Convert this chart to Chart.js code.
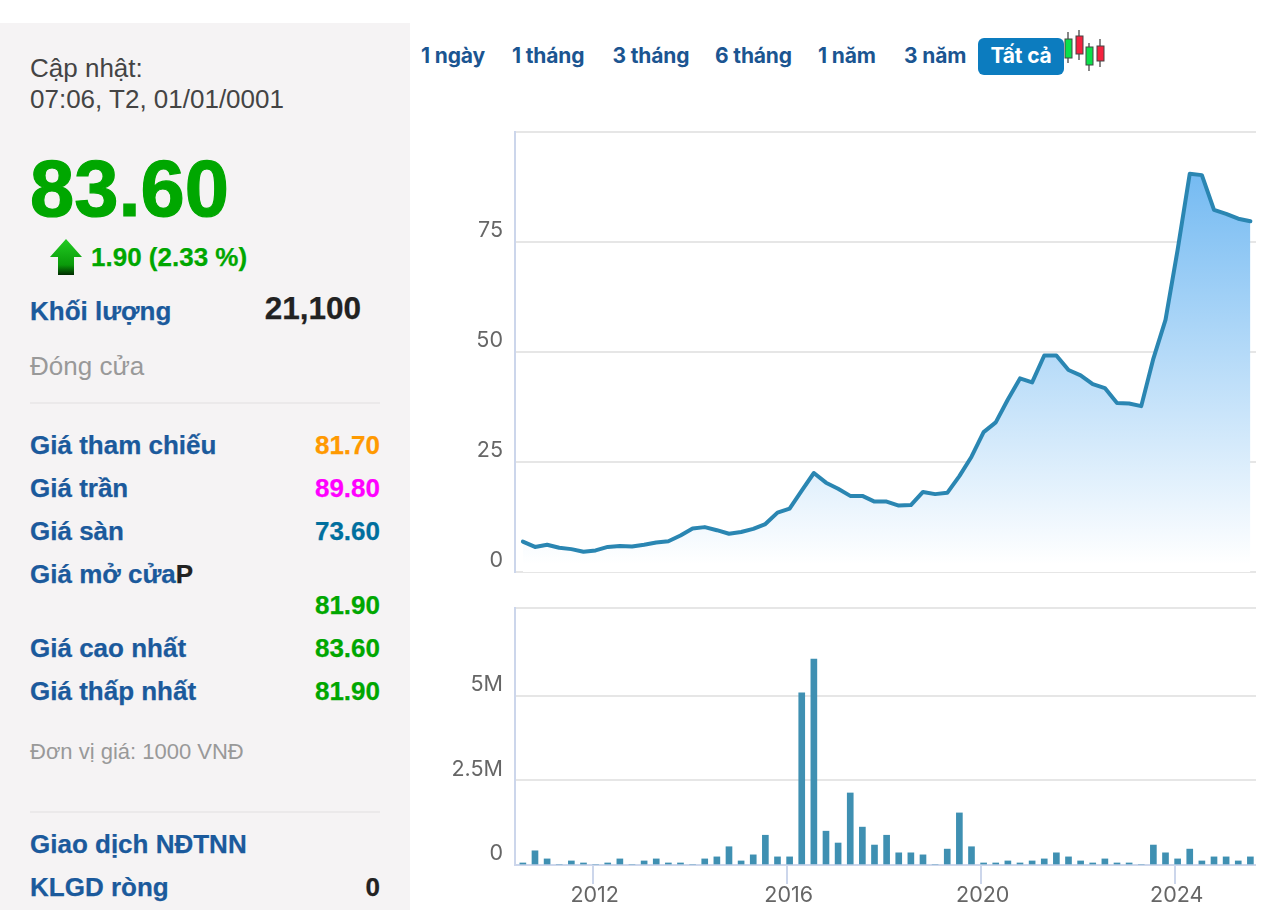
<!DOCTYPE html>
<html lang="vi"><head><meta charset="utf-8">
<script src="https://cdn.jsdelivr.net/npm/chart.js@4"></script>
<style>
html,body{margin:0;padding:0;background:#fff;width:1284px;height:910px;overflow:hidden}
#panel{position:absolute;left:0;top:23px;width:410px;height:887px;background:#f5f3f4}
.t{position:absolute;white-space:nowrap;font-family:"Liberation Sans",Arial,sans-serif;line-height:30px;font-size:26px;transform:translateY(-15px)}
.b{font-weight:700;-webkit-text-stroke:.25px currentColor}.blue{color:#1b5a9c}.r{right:904px;text-align:right}.l{left:30px}
.rule{position:absolute;left:30px;width:350px;height:2px;background:#ebe9ea}
.btn{position:absolute;top:38px;height:37px;font:700 21px/35px Inter,sans-serif;color:#1b5591;letter-spacing:-.15px;white-space:nowrap}
.btn.on{left:978px;width:86px;background:#0c7cbf;color:#fff;border-radius:6px;text-align:center}
canvas{position:absolute;display:block}
</style></head><body>
<div id="panel"></div>
<div class="t l" style="top:68px;color:#444">Cập nhật:</div>
<div class="t l" style="top:99px;color:#444">07:06, T2, 01/01/0001</div>
<div class="t b" style="left:30px;top:189px;font-size:79.5px;line-height:90px;transform:translateY(-45px);color:#00a700;-webkit-text-stroke:1.2px #00a700">83.60</div>
<svg style="position:absolute;left:49px;top:239px" width="34" height="37" viewBox="0 0 34 37"><defs><linearGradient id="ar" x1="0" y1="0" x2="0" y2="1"><stop offset="0" stop-color="#22cc22"/><stop offset=".72" stop-color="#0a9a0a"/><stop offset="1" stop-color="#002a00"/></linearGradient></defs><path d="M17 0L33 18H25V36H9V18H1Z" fill="url(#ar)"/></svg>
<div class="t b" style="left:91px;top:257px;color:#00a700">1.90 (2.33 %)</div>
<div class="t b blue l" style="top:311px">Khối lượng</div>
<div class="t b" style="right:923px;top:308px;font-size:31.5px;color:#222">21,100</div>
<div class="t l" style="top:366px;color:#999">Đóng cửa</div>
<div class="rule" style="top:402px"></div>
<div class="t b blue l" style="top:445px">Giá tham chiếu</div><div class="t b r" style="top:445px;color:#f90">81.70</div>
<div class="t b blue l" style="top:488px">Giá trần</div><div class="t b r" style="top:488px;color:#f0f">89.80</div>
<div class="t b blue l" style="top:531px">Giá sàn</div><div class="t b r" style="top:531px;color:#006f9e">73.60</div>
<div class="t b blue l" style="top:574px">Giá mở cửa<span style="color:#222">P</span></div>
<div class="t b r" style="top:605px;color:#00a700">81.90</div>
<div class="t b blue l" style="top:648px">Giá cao nhất</div><div class="t b r" style="top:648px;color:#00a700">83.60</div>
<div class="t b blue l" style="top:691px">Giá thấp nhất</div><div class="t b r" style="top:691px;color:#00a700">81.90</div>
<div class="t l" style="top:752px;font-size:22px;color:#999">Đơn vị giá: 1000 VNĐ</div>
<div class="rule" style="top:811px"></div>
<div class="t b blue l" style="top:844px">Giao dịch NĐTNN</div>
<div class="t b blue l" style="top:887px">KLGD ròng</div><div class="t b r" style="top:887px;color:#222">0</div>

<div class="btn" style="left:421px">1 ngày</div>
<div class="btn" style="left:512px">1 tháng</div>
<div class="btn" style="left:612.5px">3 tháng</div>
<div class="btn" style="left:715px">6 tháng</div>
<div class="btn" style="left:818px">1 năm</div>
<div class="btn" style="left:904px">3 năm</div>
<div class="btn on">Tất cả</div>
<svg style="position:absolute;left:1064px;top:30px" width="42" height="42" viewBox="0 0 42 42">
<g stroke="#555" stroke-width="1.4"><line x1="4" y1="2" x2="4" y2="33"/><line x1="15" y1="0" x2="15" y2="30"/><line x1="25" y1="13" x2="25" y2="41"/><line x1="36" y1="9" x2="36" y2="37"/></g>
<g stroke="#444" stroke-width="1"><rect x="1" y="9" width="7" height="19" fill="#0be04a"/><rect x="12" y="6" width="7" height="18" fill="#f5223f"/><rect x="22" y="17" width="7" height="18" fill="#0be04a"/><rect x="33" y="16" width="7" height="15" fill="#f5223f"/></g></svg>

<canvas id="priceChart" style="left:410px;top:122px;width:846px;height:454px"></canvas>
<canvas id="volumeChart" style="left:410px;top:598px;width:846px;height:312px"></canvas>

<script>
const quarters = [2010.56,2010.81,2011.06,2011.31,2011.56,2011.81,2012.06,2012.31,2012.56,2012.81,2013.06,2013.31,2013.56,2013.81,2014.06,2014.31,2014.56,2014.81,2015.06,2015.31,2015.56,2015.81,2016.06,2016.31,2016.56,2016.81,2017.06,2017.31,2017.56,2017.81,2018.06,2018.31,2018.56,2018.81,2019.06,2019.31,2019.56,2019.81,2020.06,2020.31,2020.56,2020.81,2021.06,2021.31,2021.56,2021.81,2022.06,2022.31,2022.56,2022.81,2023.06,2023.31,2023.56,2023.81,2024.06,2024.31,2024.56,2024.81,2025.06,2025.31,2025.56];
const closePrices = [6.9,5.7,6.2,5.5,5.2,4.6,4.9,5.7,5.9,5.8,6.2,6.7,7.0,8.3,9.9,10.2,9.5,8.7,9.1,9.8,10.9,13.5,14.4,18.5,22.5,20.3,18.9,17.3,17.3,16.0,16.0,15.1,15.2,18.2,17.7,18.0,21.8,26.2,31.8,34.0,39.2,44.0,43.1,49.2,49.2,45.9,44.7,42.7,41.8,38.4,38.3,37.7,48.5,57.3,73.2,90.5,90.2,82.3,81.4,80.3,79.7];
const volumes = [0.06,0.42,0.18,0,0.12,0.06,0,0.06,0.18,0,0.12,0.18,0.06,0.06,0,0.18,0.24,0.54,0.12,0.30,0.88,0.24,0.24,5.09,6.09,1.00,0.65,2.13,1.12,0.59,0.88,0.36,0.36,0.30,0,0.47,1.54,0.54,0.06,0.06,0.12,0.06,0.12,0.18,0.36,0.24,0.12,0.06,0.18,0.06,0.06,0,0.59,0.36,0.18,0.47,0.12,0.24,0.24,0.12,0.24];
const priceTicks = [0,25,50,75,100];
const volumeTicks = [0,2.5,5];
const yearTicks = [2012,2016,2020,2024];
const xMin = 2010.398, xMax = 2025.676;
const labelFont = {family:'Inter, sans-serif', size:21.5};
const GRID = '#e6e6e6', AXIS = '#ccd6eb', LABEL = '#666';
const Y_WIDTH = 105;

function fixedTicks(list){ return s => { s.ticks = list.map(v => ({value:v})); }; }

new Chart(document.getElementById('priceChart'), {
  type:'line',
  data:{datasets:[{
    data:quarters.map((q,i)=>({x:q,y:closePrices[i]})),
    borderColor:'#2a86b2', borderWidth:4, pointRadius:0, tension:0, fill:'origin',
    borderCapStyle:'round', borderJoinStyle:'round',
    backgroundColor(ctx){
      const a = ctx.chart.chartArea; if(!a) return 'transparent';
      const g = ctx.chart.ctx.createLinearGradient(0,a.top+40,0,a.bottom-8);
      g.addColorStop(0,'rgba(116,186,242,1)'); g.addColorStop(1,'rgba(255,255,255,1)');
      return g;
    }
  }]},
  options:{
    responsive:false, animation:false, devicePixelRatio:1,
    layout:{padding:{top:10,right:0,bottom:4,left:0}},
    plugins:{legend:{display:false},tooltip:{enabled:false}},
    scales:{
      x:{type:'linear',min:xMin,max:xMax,display:false},
      y:{min:0,max:100,position:'left',
        afterBuildTicks:fixedTicks(priceTicks),
        afterFit(s){s.width=Y_WIDTH;s.paddingTop=0;s.paddingBottom=0;},
        border:{color:AXIS,width:2},
        grid:{color:GRID,lineWidth:2,drawTicks:false},
        ticks:{font:labelFont,color:LABEL,padding:12,labelOffset:-11,autoSkip:false,
          callback:v=>v===100?'':String(v)}
      }
    }
  }
});

new Chart(document.getElementById('volumeChart'), {
  type:'bar',
  data:{datasets:[{
    data:quarters.map((q,i)=>({x:q,y:volumes[i]})),
    backgroundColor:'#3f90b2', barThickness:6, borderWidth:0
  }]},
  options:{
    responsive:false, animation:false, devicePixelRatio:1,
    layout:{padding:{top:10,right:0,bottom:0,left:0}},
    plugins:{legend:{display:false},tooltip:{enabled:false}},
    scales:{
      x:{type:'linear',min:xMin,max:xMax,offset:false,
        afterBuildTicks:fixedTicks(yearTicks),
        afterFit(s){s.height=45;s.paddingLeft=0;s.paddingRight=0;},
        border:{color:AXIS,width:2},
        grid:{offset:false,drawOnChartArea:false,drawTicks:true,tickLength:19,color:AXIS,lineWidth:2},
        ticks:{font:labelFont,color:LABEL,padding:-1,labelOffset:2,maxRotation:0,autoSkip:false,callback:v=>String(v)}
      },
      y:{min:0,max:7.6,position:'left',
        afterBuildTicks:s=>{s.ticks=volumeTicks.concat([7.6]).map(v=>({value:v}));},
        afterFit(s){s.width=Y_WIDTH;s.paddingTop=0;s.paddingBottom=0;},
        border:{color:AXIS,width:2},
        grid:{color:GRID,lineWidth:2,drawTicks:false},
        ticks:{font:labelFont,color:LABEL,padding:12,labelOffset:-11,autoSkip:false,
          callback:v=>v===7.6?'':(v===0?'0':v+'M')}
      }
    }
  }
});
</script>
</body></html>
